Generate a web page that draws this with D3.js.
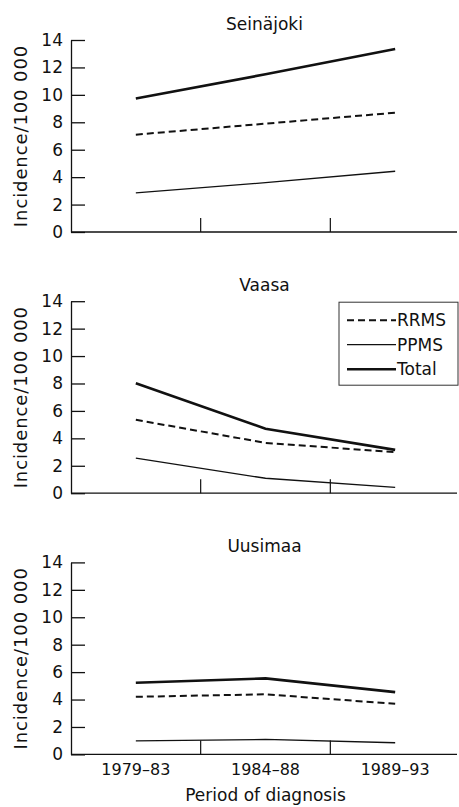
<!DOCTYPE html>
<html>
<head>
	<meta charset="utf-8">
	<title>MS incidence by region</title>
	<script src="https://d3js.org/d3.v7.min.js"></script>
	<style>
		body { margin: 0; background: #fff; }
		text { font-family: "DejaVu Sans", sans-serif; fill: #111; }
	</style>
</head>
<body>
	<div id="chart"></div>
	<script type="text/javascript">

		// Data
		var regions = ["Seinäjoki", "Vaasa", "Uusimaa"];
		var periods = ["1979–83", "1984–88", "1989–93"];
		var rrms  = [[7.1, 7.9, 8.7], [5.35, 3.67, 2.99], [4.2, 4.38, 3.69]];
		var ppms  = [[2.85, 3.6, 4.43], [2.55, 1.09, 0.42], [0.99, 1.09, 0.85]];
		var total = [[9.74, 11.5, 13.34], [8.02, 4.7, 3.16], [5.22, 5.54, 4.54]];
		var yTicks = [0, 2, 4, 6, 8, 10, 12, 14];
		var seriesNames = ["RRMS", "PPMS", "Total"];

		var width = 459, height = 807;
		var left = 71, right = 460;
		var panelTop = 40, panelH = 192, panelStep = 261.2;

		var styles = {
			RRMS:  { width: 2,   dash: "7,4" },
			PPMS:  { width: 1.3, dash: null },
			Total: { width: 2.6, dash: null }
		};

		var svg = d3.select("#chart").append("svg")
			.attr("width", width)
			.attr("height", height);

		var x = d3.scaleBand().domain(periods).range([left, right]);
		var y = d3.scaleLinear().domain([0, 14]).range([panelH, 0]);

		var line = d3.line()
			.x(function(d, i) { return x(periods[i]) + x.bandwidth() / 2; })
			.y(function(d) { return y(d); });

		regions.forEach(function(region, r) {
			var g = svg.append("g")
				.attr("transform", "translate(0," + (panelTop + r * panelStep) + ")");

			// title
			g.append("text")
				.attr("x", (left + right) / 2 - 1)
				.attr("y", -10)
				.attr("text-anchor", "middle")
				.style("font-size", "17px")
				.text(region);

			// y axis, ticks point inwards
			var yAxis = g.append("g")
				.attr("transform", "translate(" + left + ",0)")
				.call(d3.axisLeft(y).tickValues(yTicks).tickSize(-14).tickPadding(8).tickSizeOuter(0));
			yAxis.select(".domain").attr("stroke", "#111").attr("stroke-width", 1.3);
			yAxis.selectAll(".tick line").attr("stroke", "#111").attr("stroke-width", 1.3);
			yAxis.selectAll(".tick text")
				.style("font-size", "17px")
				.style("font-family", "'DejaVu Sans', sans-serif")
				.attr("fill", "#111");

			g.append("text")
				.attr("transform", "translate(21," + (panelH / 2) + ") rotate(-90)")
				.attr("text-anchor", "middle")
				.attr("dy", "0.35em")
				.style("font-size", "18px")
				.style("letter-spacing", "0.9px")
				.text("Incidence/100 000");

			// x axis line + boundary ticks between periods
			g.append("line")
				.attr("x1", left).attr("x2", 457)
				.attr("y1", panelH).attr("y2", panelH)
				.attr("stroke", "#111").attr("stroke-width", 1.3);
			g.selectAll(".bound")
				.data(periods.slice(0, -1))
				.enter().append("line")
				.attr("class", "bound")
				.attr("x1", function(d) { return x(d) + x.bandwidth(); })
				.attr("x2", function(d) { return x(d) + x.bandwidth(); })
				.attr("y1", panelH).attr("y2", panelH - 14)
				.attr("stroke", "#111").attr("stroke-width", 1.2);

			// series lines
			var vals = { RRMS: rrms[r], PPMS: ppms[r], Total: total[r] };
			seriesNames.forEach(function(s) {
				g.append("path")
					.attr("d", line(vals[s]))
					.attr("fill", "none")
					.attr("stroke", "#111")
					.attr("stroke-width", styles[s].width)
					.attr("stroke-dasharray", styles[s].dash);
			});

			// bottom panel gets category labels
			if (r === regions.length - 1) {
				g.selectAll(".xlab")
					.data(periods)
					.enter().append("text")
					.attr("class", "xlab")
					.attr("x", function(d) { return x(d) + x.bandwidth() / 2; })
					.attr("y", panelH + 21)
					.attr("text-anchor", "middle")
					.style("font-size", "16px")
					.text(function(d) { return d; });
				g.append("text")
					.attr("x", (left + right) / 2)
					.attr("y", panelH + 47)
					.attr("text-anchor", "middle")
					.style("font-size", "17px")
					.text("Period of diagnosis");
			}

			// legend in middle panel
			if (r === 1) {
				var lg = g.append("g").attr("transform", "translate(339,1)");
				lg.append("rect")
					.attr("x", 0).attr("y", 0)
					.attr("width", 119).attr("height", 83)
					.attr("fill", "#fff").attr("stroke", "#333").attr("stroke-width", 1);
				seriesNames.forEach(function(s, i) {
					var ly = 18 + i * 24.5;
					lg.append("line")
						.attr("x1", 8).attr("x2", 57)
						.attr("y1", ly).attr("y2", ly)
						.attr("stroke", "#111")
						.attr("stroke-width", styles[s].width)
						.attr("stroke-dasharray", styles[s].dash);
					lg.append("text")
						.attr("x", 58).attr("y", ly)
						.attr("dy", "0.36em")
						.style("font-size", "17px")
						.text(s);
				});
			}
		});

	</script>
</body>
</html>
